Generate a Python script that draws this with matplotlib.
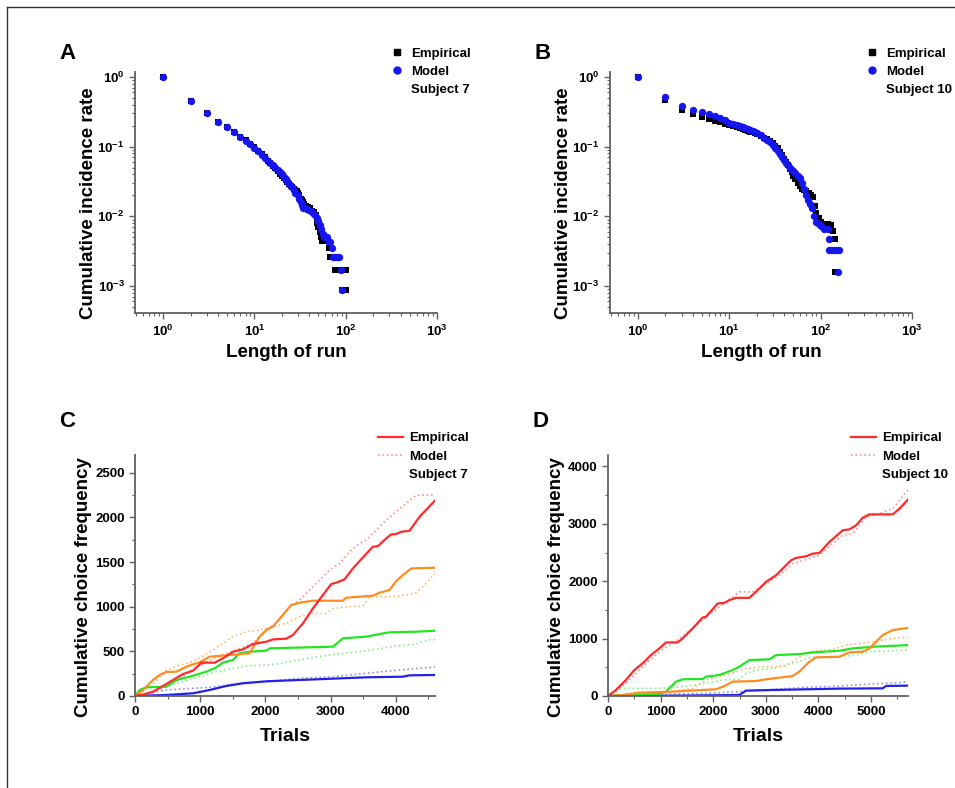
import numpy as np
import matplotlib
matplotlib.use("Agg")
import matplotlib.pyplot as plt
from matplotlib.lines import Line2D
from matplotlib.ticker import FixedLocator, MultipleLocator, FuncFormatter, LogLocator, NullFormatter

plt.rcParams['font.family'] = ['Liberation Sans', 'DejaVu Sans']
plt.rcParams['font.weight'] = 'bold'
plt.rcParams['mathtext.fontset'] = 'custom'
plt.rcParams['mathtext.bf'] = 'Liberation Sans:bold'
plt.rcParams['mathtext.rm'] = 'Liberation Sans:bold'

# ─── panel A: subject 7 run lengths ─────────────────────────────────────────
a_emp_x = [1, 2, 3, 4, 5, 6, 7, 8, 9, 10, 11, 12, 13, 14, 15, 16, 17, 18, 19, 20,
           21, 22, 23, 24, 25, 26, 27, 28, 29, 30, 31, 32, 33, 34, 35, 37, 39, 41,
           43, 45, 47, 48, 49, 50, 52, 53, 55, 58, 62, 65, 68, 72, 76, 82, 100, 92, 100]
a_emp_y = [1.0, 0.45, 0.30, 0.225, 0.19, 0.16, 0.14, 0.125, 0.11, 0.098, 0.088, 0.078,
           0.07, 0.063, 0.058, 0.053, 0.049, 0.045, 0.041, 0.038, 0.035, 0.033, 0.031,
           0.029, 0.027, 0.026, 0.025, 0.024, 0.023, 0.022, 0.020, 0.018, 0.017, 0.016,
           0.015, 0.014, 0.0135, 0.013, 0.012, 0.0115, 0.0105, 0.009, 0.008, 0.007,
           0.006, 0.005, 0.0044, 0.0044, 0.0044, 0.0035, 0.0026, 0.0026, 0.0017, 0.0017,
           0.0017, 0.00087, 0.00087]
a_mod_x = [1, 2, 3, 4, 5, 6, 7, 8, 9, 10, 11, 12, 13, 14, 15, 16, 17, 18, 19, 20,
           21, 22, 23, 24, 25, 26, 27, 28, 30, 31, 32, 33, 34, 36, 38, 40, 42, 44, 46,
           48, 50, 52, 54, 56, 58, 60, 62, 65, 68, 70, 72, 76, 80, 85, 88, 90]
a_mod_y = [1.0, 0.455, 0.30, 0.228, 0.19, 0.16, 0.138, 0.122, 0.108, 0.097, 0.087,
           0.077, 0.069, 0.063, 0.058, 0.054, 0.05, 0.046, 0.043, 0.04, 0.037, 0.034,
           0.032, 0.029, 0.027, 0.026, 0.024, 0.022, 0.02, 0.018, 0.016, 0.0145, 0.013,
           0.013, 0.0128, 0.0125, 0.012, 0.011, 0.0105, 0.0095, 0.0085, 0.0075, 0.0065,
           0.0055, 0.005, 0.005, 0.005, 0.0043, 0.0043, 0.0035, 0.0026, 0.0026, 0.0026,
           0.0026, 0.0017, 0.00087]

# ─── panel B: subject 10 run lengths ────────────────────────────────────────
b_emp_x = [1, 2, 3, 4, 5, 6, 7, 8, 9, 10, 11, 12, 13, 14, 15, 16, 17, 18, 19, 20,
           22, 24, 26, 28, 30, 32, 34, 36, 38, 40, 42, 44, 46, 48, 50, 53, 56, 60, 63,
           66, 70, 74, 78, 82, 86, 90, 95, 100, 110, 120, 130, 135, 142, 145]
b_emp_y = [1.0, 0.47, 0.34, 0.29, 0.27, 0.25, 0.235, 0.225, 0.215, 0.205, 0.198, 0.19,
           0.185, 0.18, 0.175, 0.17, 0.165, 0.16, 0.155, 0.15, 0.142, 0.135, 0.128,
           0.12, 0.113, 0.104, 0.095, 0.085, 0.075, 0.066, 0.06, 0.054, 0.048, 0.043,
           0.038, 0.034, 0.03, 0.027, 0.025, 0.024, 0.023, 0.022, 0.02, 0.019, 0.014,
           0.011, 0.0095, 0.0082, 0.0078, 0.0078, 0.0075, 0.0062, 0.0047, 0.0016]
b_mod_x = [1, 2, 3, 4, 5, 6, 7, 8, 9, 10, 11, 12, 13, 14, 15, 16, 17, 18, 19, 20,
           22, 24, 26, 28, 30, 32, 34, 36, 38, 40, 42, 44, 46, 48, 50, 53, 56, 60, 63,
           66, 70, 73, 76, 80, 85, 90, 95, 100, 110, 120, 125, 122, 130, 140, 150, 160, 155]
b_mod_y = [1.0, 0.51, 0.39, 0.34, 0.32, 0.29, 0.275, 0.26, 0.24, 0.22, 0.212, 0.205,
           0.198, 0.19, 0.183, 0.177, 0.172, 0.166, 0.16, 0.155, 0.145, 0.135, 0.126,
           0.117, 0.106, 0.096, 0.087, 0.078, 0.071, 0.065, 0.059, 0.054, 0.05, 0.047,
           0.045, 0.042, 0.038, 0.035, 0.03, 0.025, 0.02, 0.017, 0.015, 0.013, 0.01,
           0.0084, 0.0078, 0.0072, 0.0065, 0.0065, 0.0048, 0.0033, 0.0033, 0.0033,
           0.0033, 0.0033, 0.0016]

# ─── panel C: subject 7 cumulative choices (x=trials, y=count) ──────────────
c_red_emp_x = [0, 123, 276, 430, 582, 736, 890, 1016, 1221, 1349, 1502, 1655, 1808,
               2013, 2115, 2320, 2421, 2575, 2728, 2881, 3009, 3086, 3213, 3341, 3494,
               3647, 3724, 3852, 3928, 4005, 4082, 4210, 4363, 4600]
c_red_emp_y = [0, 15, 48, 112, 179, 246, 284, 373, 373, 422, 496, 522, 582, 608, 634,
               642, 683, 814, 981, 1131, 1254, 1269, 1306, 1429, 1552, 1672, 1679, 1765,
               1810, 1814, 1840, 1851, 2008, 2190]
c_red_mod_x = [0, 300, 600, 900, 1200, 1500, 1800, 2013, 2217, 2370, 2524, 2677, 2830,
               2983, 3137, 3290, 3443, 3545, 3698, 3852, 4005, 4159, 4312, 4600]
c_red_mod_y = [0, 40, 150, 300, 420, 500, 590, 739, 851, 1000, 1075, 1187, 1299, 1411,
               1485, 1616, 1709, 1747, 1859, 1970, 2064, 2157, 2250, 2250]
c_org_emp_x = [0, 123, 276, 378, 480, 634, 787, 1000, 1144, 1451, 1757, 1910, 2013,
               2115, 2243, 2396, 2524, 2728, 3188, 3239, 3647, 3750, 3903, 4005, 4107,
               4235, 4600]
c_org_emp_y = [0, 67, 179, 235, 269, 272, 328, 380, 440, 459, 478, 664, 739, 776, 888,
               1019, 1045, 1067, 1067, 1101, 1123, 1157, 1187, 1288, 1355, 1429, 1437]
c_org_mod_x = [0, 100, 300, 480, 685, 890, 1196, 1349, 1502, 1706, 1910, 2115, 2320,
               2524, 2728, 2932, 3034, 3290, 3494, 3596, 3954, 4159, 4312, 4465, 4600]
c_org_mod_y = [0, 30, 150, 291, 347, 384, 515, 590, 664, 720, 739, 776, 814, 888, 925,
               925, 981, 1000, 1008, 1112, 1112, 1131, 1157, 1261, 1373]
c_grn_emp_x = [0, 72, 174, 480, 634, 838, 1093, 1247, 1349, 1502, 1604, 1757, 2013,
               2064, 3034, 3188, 3545, 3750, 3903, 4312, 4600]
c_grn_emp_y = [0, 67, 97, 104, 179, 216, 272, 321, 373, 403, 478, 496, 508, 534, 552,
               646, 664, 694, 713, 720, 731]
c_grn_mod_x = [0, 220, 480, 736, 990, 1247, 1502, 1757, 2000, 2200, 2500, 2800, 3000,
               3500, 4000, 4300, 4500, 4600]
c_grn_mod_y = [0, 30, 104, 160, 216, 272, 310, 340, 345, 360, 400, 440, 460, 500, 560,
               580, 630, 630]
c_blu_emp_x = [0, 480, 890, 1144, 1400, 1655, 2013, 2524, 3034, 3545, 4107, 4210, 4600]
c_blu_emp_y = [0, 11, 30, 67, 112, 142, 164, 179, 194, 209, 216, 231, 235]
c_blu_mod_x = [0, 480, 990, 1247, 1502, 2013, 2524, 3034, 3545, 4056, 4600]
c_blu_mod_y = [0, 67, 90, 104, 134, 165, 198, 216, 254, 291, 325]

# ─── panel D: subject 10 cumulative choices ─────────────────────────────────
d_red_emp_x = [0, 152, 342, 501, 659, 817, 976, 1103, 1325, 1420, 1610, 1800, 1863,
               2085, 2212, 2307, 2433, 2687, 2845, 3004, 3194, 3352, 3479, 3574, 3764,
               3891, 4018, 4208, 4461, 4588, 4715, 4842, 4968, 5412, 5539, 5716]
d_red_emp_y = [0, 104, 278, 452, 568, 713, 829, 933, 933, 1003, 1177, 1368, 1380, 1612,
               1623, 1670, 1710, 1710, 1843, 1988, 2104, 2249, 2365, 2406, 2435, 2481,
               2493, 2684, 2887, 2904, 2974, 3107, 3165, 3165, 3264, 3438]
d_red_mod_x = [0, 342, 659, 976, 1230, 1483, 1800, 2053, 2370, 2497, 2750, 3004, 3257,
               3511, 3827, 4018, 4271, 4461, 4651, 4904, 5157, 5412, 5716]
d_red_mod_y = [0, 220, 510, 771, 916, 1090, 1322, 1507, 1727, 1815, 1815, 1959, 2104,
               2307, 2394, 2452, 2655, 2800, 2829, 3119, 3177, 3264, 3611]
d_org_emp_x = [0, 279, 596, 1230, 1545, 2053, 2212, 2370, 2814, 3004, 3511, 3637, 3827,
               3954, 4398, 4588, 4842, 4968, 5127, 5222, 5412, 5716]
d_org_emp_y = [0, 17, 58, 75, 93, 116, 174, 249, 261, 290, 348, 423, 597, 672, 684, 759,
               771, 829, 974, 1061, 1148, 1188]
d_org_mod_x = [0, 596, 1230, 1610, 1863, 2117, 2370, 2624, 3004, 3384, 3637, 3827, 4271,
               4525, 4778, 5032, 5412, 5716]
d_org_mod_y = [0, 46, 75, 133, 278, 336, 394, 481, 510, 522, 684, 771, 812, 887, 916,
               945, 1003, 1020]
d_grn_emp_x = [0, 976, 1103, 1293, 1420, 1800, 1863, 2117, 2370, 2497, 2687, 3067, 3194,
               3637, 3891, 4398, 4651, 5032, 5716]
d_grn_emp_y = [0, 35, 75, 249, 290, 296, 336, 365, 452, 510, 626, 638, 713, 730, 759,
               788, 829, 858, 887]
d_grn_mod_x = [0, 279, 913, 1293, 1863, 2180, 2497, 2624, 2814, 3130, 3384, 3637, 3891,
               4398, 4715, 4968, 5716]
d_grn_mod_y = [0, 133, 133, 151, 220, 278, 290, 394, 452, 481, 539, 597, 684, 684, 713,
               771, 800]
d_blu_emp_x = [0, 1230, 2497, 2624, 3130, 3764, 4398, 5222, 5285, 5716]
d_blu_emp_y = [0, 5, 17, 93, 104, 116, 128, 133, 174, 180]
d_blu_mod_x = [0, 1863, 2497, 3130, 3764, 4398, 5032, 5539, 5716]
d_blu_mod_y = [0, 46, 75, 116, 151, 174, 209, 232, 249]

RED, ORANGE, GREEN, BLUE = "#ff2a2a", "#ff8c1e", "#22e622", "#2222e6"
RED_L, ORANGE_L, GREEN_L, BLUE_L = "#ff9090", "#ffb870", "#88ee88", "#9090f0"
SPINE = "#606060"
EMP_LW, MOD_LW = 1.6, 1.2

fig = plt.figure(figsize=(9.55, 7.88), dpi=100)

def style_axes(ax):
    for s in ("top", "right"):
        ax.spines[s].set_visible(False)
    for s in ("left", "bottom"):
        ax.spines[s].set_color(SPINE)
        ax.spines[s].set_linewidth(1.3)
    ax.tick_params(which="both", direction="out", color=SPINE, labelsize=9.5)
    ax.tick_params(which="major", length=4, width=1.0)
    ax.tick_params(which="minor", length=2, width=0.8)
    for lab in ax.get_xticklabels() + ax.get_yticklabels():
        lab.set_fontweight("bold")

def pow_fmt(v, pos):
    e = int(round(np.log10(v)))
    return r"$\mathbf{10^{%d}}$" % e

def log_panel(rect, emp_x, emp_y, mod_x, mod_y, letter, subject):
    ax = fig.add_axes(rect)
    ax.scatter(emp_x, emp_y, marker="s", s=22, color="black", linewidths=0, zorder=2)
    ax.scatter(mod_x, mod_y, marker="o", s=28, color="#1515ee", linewidths=0, zorder=3)
    ax.set_xscale("log")
    ax.set_yscale("log")
    ax.set_xlim(0.493, 1000)
    ax.set_ylim(4.1e-4, 1.18)
    ax.xaxis.set_major_locator(FixedLocator([1, 10, 100, 1000]))
    ax.yaxis.set_major_locator(FixedLocator([1e-3, 1e-2, 1e-1, 1]))
    ax.xaxis.set_minor_locator(LogLocator(base=10, subs=np.arange(2, 10)))
    ax.yaxis.set_minor_locator(LogLocator(base=10, subs=np.arange(2, 10)))
    ax.xaxis.set_major_formatter(FuncFormatter(pow_fmt))
    ax.yaxis.set_major_formatter(FuncFormatter(pow_fmt))
    ax.xaxis.set_minor_formatter(NullFormatter())
    ax.yaxis.set_minor_formatter(NullFormatter())
    style_axes(ax)
    ax.set_xlabel("Length of run", fontsize=13.5, fontweight="bold")
    ax.set_ylabel("Cumulative incidence rate", fontsize=13.5, fontweight="bold")
    ax.xaxis.set_label_coords(0.5, -0.13)
    ax.yaxis.set_label_coords(-0.127, 0.455)
    handles = [Line2D([], [], marker="s", ls="none", color="black", markersize=4.5),
               Line2D([], [], marker="o", ls="none", color="#1515ee", markersize=5),
               Line2D([], [], ls="none")]
    ax.legend(handles, ["Empirical", "Model", subject], loc="upper left",
              bbox_to_anchor=(rect[0] + 0.2615, 1 - 0.052), bbox_transform=fig.transFigure,
              frameon=False, borderpad=0, handlelength=0.8, handletextpad=0.7,
              labelspacing=0.45, prop={"size": 9.5, "weight": "bold"})
    fig.text(rect[0] - 0.079, 1 - 59 / 788, letter, fontsize=16, fontweight="bold")
    return ax

def line_panel(rect, series, xmax, ymax, ymajor, letter, subject):
    ax = fig.add_axes(rect)
    for xs, ys, col, ls, lw in series:
        ax.plot(xs, ys, color=col, ls=ls, lw=lw)
    ax.set_xlim(0, xmax)
    ax.set_ylim(0, ymax)
    ax.xaxis.set_major_locator(MultipleLocator(1000))
    ax.xaxis.set_minor_locator(MultipleLocator(500))
    ax.yaxis.set_major_locator(MultipleLocator(ymajor))
    ax.yaxis.set_minor_locator(MultipleLocator(ymajor / 2))
    style_axes(ax)
    ax.set_xlabel("Trials", fontsize=14, fontweight="bold")
    ax.set_ylabel("Cumulative choice frequency", fontsize=13.5, fontweight="bold")
    ax.xaxis.set_label_coords(0.5, -0.133)
    ax.yaxis.set_label_coords(-0.142, 0.45)
    handles = [Line2D([], [], color=RED, lw=EMP_LW),
               Line2D([], [], color=RED_L, lw=MOD_LW, ls=":"),
               Line2D([], [], ls="none")]
    ax.legend(handles, ["Empirical", "Model", subject], loc="upper left",
              bbox_to_anchor=(rect[0] + 0.2475, 1 - 0.540), bbox_transform=fig.transFigure,
              frameon=False, borderpad=0, handlelength=1.9, handletextpad=0.45,
              labelspacing=0.45, prop={"size": 9.5, "weight": "bold"})
    fig.text(rect[0] - 0.079, 1 - 427 / 788, letter, fontsize=16, fontweight="bold")
    return ax

log_panel([0.1414, 0.6028, 0.3162, 0.3058], a_emp_x, a_emp_y, a_mod_x, a_mod_y, "A", "Subject 7")
log_panel([0.6387, 0.6028, 0.3162, 0.3058], b_emp_x, b_emp_y, b_mod_x, b_mod_y, "B", "Subject 10")

c_series = [
    (c_blu_mod_x, c_blu_mod_y, BLUE_L, ":", MOD_LW),
    (c_grn_mod_x, c_grn_mod_y, GREEN_L, ":", MOD_LW),
    (c_org_mod_x, c_org_mod_y, ORANGE_L, ":", MOD_LW),
    (c_red_mod_x, c_red_mod_y, RED_L, ":", MOD_LW),
    (c_blu_emp_x, c_blu_emp_y, BLUE, "-", EMP_LW),
    (c_grn_emp_x, c_grn_emp_y, GREEN, "-", EMP_LW),
    (c_org_emp_x, c_org_emp_y, ORANGE, "-", EMP_LW),
    (c_red_emp_x, c_red_emp_y, RED, "-", EMP_LW),
]
d_series = [
    (d_blu_mod_x, d_blu_mod_y, BLUE_L, ":", MOD_LW),
    (d_grn_mod_x, d_grn_mod_y, GREEN_L, ":", MOD_LW),
    (d_org_mod_x, d_org_mod_y, ORANGE_L, ":", MOD_LW),
    (d_red_mod_x, d_red_mod_y, RED_L, ":", MOD_LW),
    (d_blu_emp_x, d_blu_emp_y, BLUE, "-", EMP_LW),
    (d_grn_emp_x, d_grn_emp_y, GREEN, "-", EMP_LW),
    (d_org_emp_x, d_org_emp_y, ORANGE, "-", EMP_LW),
    (d_red_emp_x, d_red_emp_y, RED, "-", EMP_LW),
]
line_panel([0.1414, 0.1168, 0.3141, 0.3058], c_series, 4600, 2700, 500, "C", "Subject 7")
line_panel([0.6366, 0.1168, 0.3141, 0.3058], d_series, 5700, 4200, 1000, "D", "Subject 10")

# thin frame on top and left, as in the source figure
fig.add_artist(Line2D([0.0073, 1.0], [0.991, 0.991], transform=fig.transFigure, color="#333333", lw=1.0))
fig.add_artist(Line2D([0.0073, 0.0073], [0.0, 0.991], transform=fig.transFigure, color="#333333", lw=1.0))

fig.savefig("out.png", dpi=100)
